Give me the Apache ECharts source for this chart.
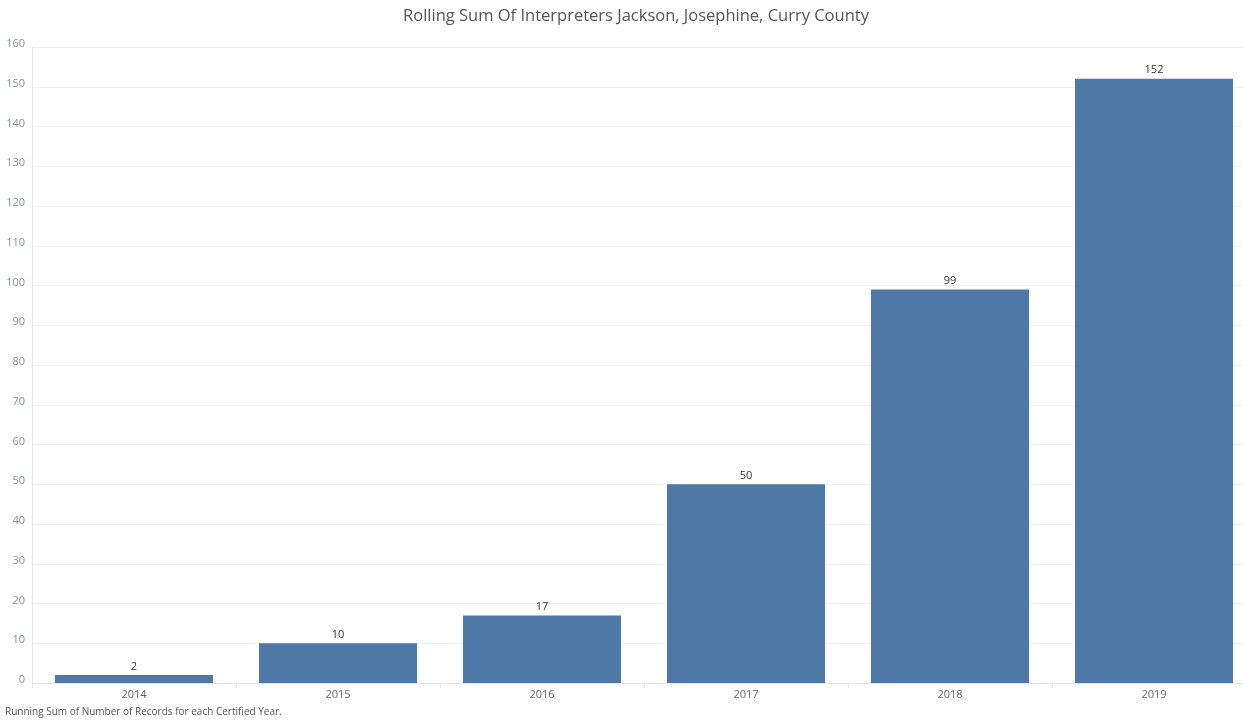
<!DOCTYPE html>
<html>
<head>
<meta charset="utf-8">
<script src="https://cdn.jsdelivr.net/npm/echarts@6/dist/echarts.min.js"></script>
<style>html,body{margin:0;padding:0;background:#fff;overflow:hidden;}#c{width:1256px;height:724px;}</style>
</head>
<body>
<div id="c"></div>
<script>
const titleText = 'Rolling Sum Of Interpreters Jackson, Josephine, Curry County';
const footerText = 'Running Sum of Number of Records for each Certified Year.';
const years = ['2014', '2015', '2016', '2017', '2018', '2019'];
const runningSum = [2, 10, 17, 50, 99, 152];
const yMin = 0, yMax = 160, yStep = 10;

const chart = echarts.init(document.getElementById('c'), null, {renderer: 'canvas'});
chart.setOption({
  animation: false,
  backgroundColor: '#fff',
  title: {
    text: titleText,
    left: 631, top: 3, textAlign: 'center',
    textStyle: {fontFamily: 'Open Sans', fontWeight: 'normal', fontSize: 16.5, color: '#555'}
  },
  graphic: [{
    type: 'text', left: 5, top: 707,
    style: {text: footerText, fontFamily: 'Open Sans', fontSize: 10, fill: '#555'}
  }],
  grid: {left: 32, top: 47, right: 0, bottom: 41, containLabel: false},
  xAxis: {
    type: 'category', data: years,
    axisLine: {show: true, lineStyle: {color: '#e6e6e6'}},
    axisTick: {show: true, length: 5, lineStyle: {color: '#e6e6e6'}},
    axisLabel: {color: '#666', fontFamily: 'Open Sans', fontSize: 11, margin: 6},
    splitLine: {show: false}
  },
  yAxis: {
    type: 'value', min: yMin, max: yMax, interval: yStep,
    axisLine: {show: true, lineStyle: {color: '#e6e6e6'}},
    axisTick: {show: false},
    axisLabel: {
      margin: 7,
      formatter: '{a|{value}}',
      rich: {a: {color: '#8a8f99', fontFamily: 'Open Sans', fontSize: 11, padding: [0, 0, 6, 0]}}
    },
    splitLine: {show: true, lineStyle: {color: '#f0f0f0'}}
  },
  series: [{
    type: 'bar', data: runningSum, barWidth: 158,
    itemStyle: {color: '#4e79a7'},
    label: {show: true, position: 'top', distance: 3, color: '#333', fontFamily: 'Open Sans', fontSize: 11}
  }]
});
</script>
</body>
</html>
